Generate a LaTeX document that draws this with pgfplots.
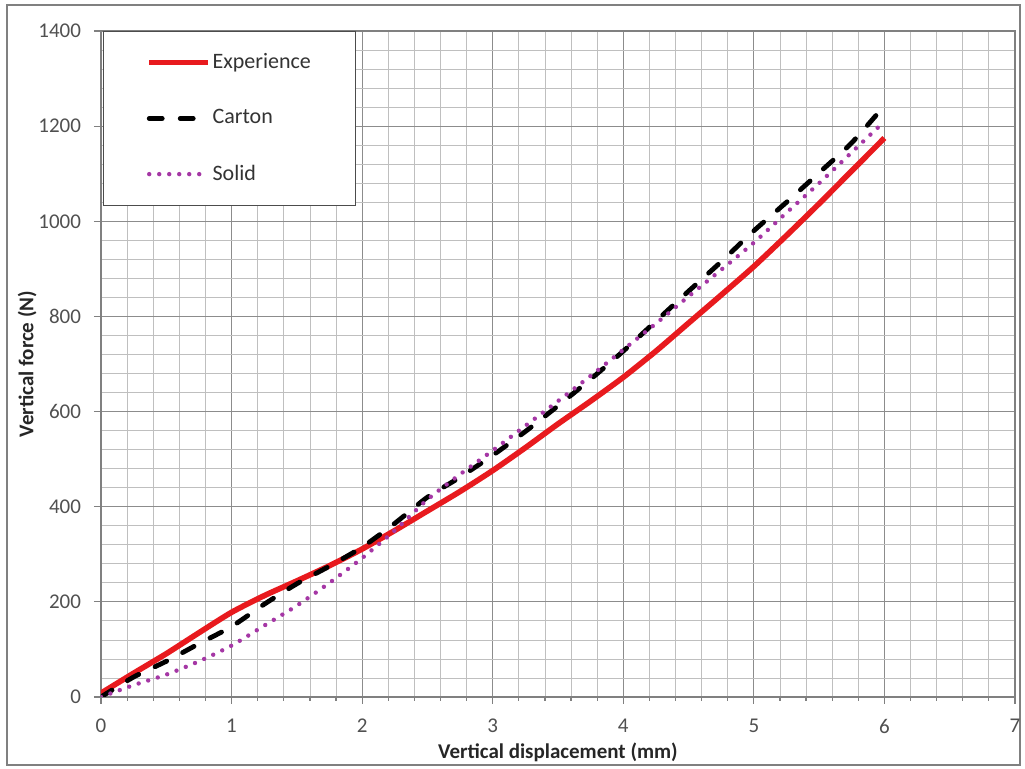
\documentclass[border=0pt]{standalone}
\usepackage{fontspec}
\setmainfont{Carlito}
\usepackage{pgfplots}
\pgfplotsset{compat=1.18}

\definecolor{expred}{RGB}{232,26,30}
\definecolor{solidpurple}{RGB}{165,55,165}
\definecolor{ticktext}{RGB}{80,80,80}

\begin{document}
\begin{tikzpicture}
  % 1 px of the reference = 0.5pt, origin at the lower left of the plot area
  \useasboundingbox (-50.5pt,-36pt) rectangle (462pt,348.5pt);
  \draw[black!50, line width=0.6pt] (-47pt,-34pt) rectangle (459.5pt,346pt);
  \begin{axis}[
      at={(0,0)}, anchor=south west,
      scale only axis, width=457pt, height=333pt,
      xmin=0, xmax=7, ymin=0, ymax=1400,
      xtick={0,1,...,7}, ytick={0,200,...,1400},
      minor x tick num=4, minor y tick num=4,
      grid=both,
      major grid style={black!45, line width=0.5pt},
      minor grid style={black!25, line width=0.4pt},
      axis line style={black!50, line width=0.6pt},
      tick align=outside, xtick pos=left, ytick pos=left,
      major tick length=3.5pt, minor tick length=2pt,
      tick style={black!50, line width=0.6pt},
      minor y tick style={draw=none},
      tick label style={font=\fontsize{10.5}{12}\selectfont, text=ticktext},
      /pgf/number format/assume math mode=true,
      /pgf/number format/1000 sep={},
      xticklabel style={yshift=-4pt},
      yticklabel style={xshift=-3pt},
      xlabel={Vertical displacement (mm)},
      ylabel={Vertical force (N)},
      label style={font=\bfseries\fontsize{10.5}{12}\selectfont, text=black!85},
      xlabel style={yshift=2pt},
      ylabel style={yshift=-6pt},
      legend style={at={(0.002,1)}, anchor=north west, draw=black!70,
        line width=0.6pt, inner xsep=21.5pt, inner ysep=9pt, row sep=15pt,
        nodes={inner xsep=0.8pt},
        font=\fontsize{11}{13}\selectfont, text=black!80},
      legend cell align=left,
      legend image code/.code={\draw[#1] (0pt,0pt) -- (29.5pt,0pt);},
    ]
    \addplot[expred, line width=2.8pt, smooth, tension=0.4] coordinates {
      (0,8) (0.25,50) (0.5,91) (0.75,135) (1,178) (1.25,213) (1.5,244)
      (1.75,276) (2,311) (2.25,350) (2.5,391) (2.75,432) (3,476)
      (3.25,524) (3.5,574) (3.75,622) (4,672) (4.25,727) (4.5,786)
      (4.75,845) (5,905) (5.25,970) (5.5,1037) (5.75,1106) (6,1175)};
    \addlegendentry{Experience}
    \addplot[black, line width=2.4pt, line cap=round, dash pattern=on 6.5pt off 9pt,
      smooth, tension=0.4] coordinates {
      (0,0) (0.25,42) (0.5,75) (0.75,112) (1,148) (1.25,195) (1.5,238)
      (1.75,275) (2,315) (2.25,365) (2.5,420) (2.75,462) (3,508)
      (3.25,558) (3.5,612) (3.75,668) (4,727) (4.25,790) (4.5,853)
      (4.75,915) (5,980) (5.25,1040) (5.5,1102) (5.75,1165) (6,1243)};
    \addlegendentry{Carton}
    \addplot[solidpurple, line width=2.2pt, line cap=round, dash pattern=on 0pt off 5pt,
      smooth, tension=0.4] coordinates {
      (0,0) (0.25,25) (0.5,47) (0.75,75) (1,108) (1.25,150) (1.5,192)
      (1.75,240) (2,292) (2.25,350) (2.5,415) (2.75,468) (3,518)
      (3.25,570) (3.5,622) (3.75,675) (4,730) (4.25,785) (4.5,842)
      (4.75,898) (5,955) (5.25,1018) (5.5,1080) (5.75,1145) (6,1210)};
    \addlegendentry{Solid}
  \end{axis}
\end{tikzpicture}
\end{document}
